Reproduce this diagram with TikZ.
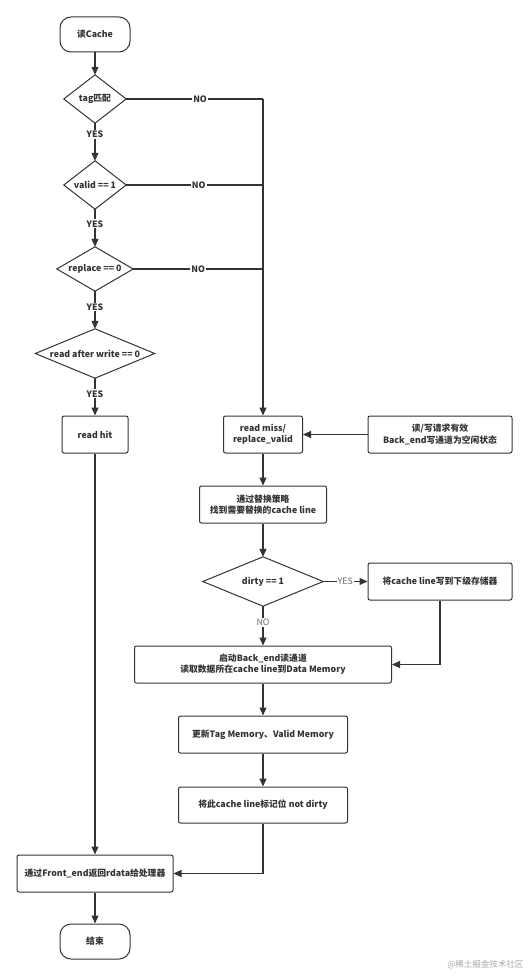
\documentclass[tikz,border=0pt]{standalone}
\usepackage{fontspec}
\setmainfont{Noto Sans CJK SC}
\usetikzlibrary{arrows.meta}
\definecolor{ink}{HTML}{333333}
\begin{document}
\begin{tikzpicture}[x=1pt,y=-1pt,
  font=\fontsize{8.8}{11.2}\selectfont\bfseries,
  line/.style={draw=ink, line width=1.1pt},
  arr/.style={line, -{Triangle[width=7pt,length=8pt]}},
  box/.style={draw=ink, line width=1pt, rounded corners=2pt, fill=white, align=center, inner sep=1pt, text=ink},
  term/.style={box, rounded corners=11pt, minimum width=70pt, minimum height=35pt},
  dec/.style={rectangle, inner sep=0pt, text=ink},
  dpath/.style={draw=ink, line width=1pt, line join=miter},
  lbl/.style={fill=white, inner sep=1pt, text=ink},
  lbl2/.style={fill=white, inner sep=1pt, text=ink!75, font=\fontsize{8.8}{11}\selectfont}
]
\useasboundingbox (0,0) rectangle (529,976);

\node[term] (start) at (95,34.5) {读Cache};
\node[dec, minimum width=62pt, minimum height=48pt] (tag) at (95,99) {tag匹配};
\node[dec, minimum width=62pt, minimum height=48pt] (valid) at (95,185) {valid == 1};
\node[dec, minimum width=76pt, minimum height=44pt] (repl) at (95,269) {replace == 0};
\node[dec, minimum width=119pt, minimum height=49pt] (raw) at (95,353.5) {read after write == 0};
\node[box, minimum width=66pt, minimum height=37pt] (hit) at (95,434.5) {read hit};
\node[box, minimum width=79pt, minimum height=37pt] (miss) at (263,434.5) {read miss/\\replace\_valid};
\node[box, minimum width=144pt, minimum height=37pt] (req) at (440,434.5) {读/写请求有效\\Back\_end写通道为空闲状态};
\node[box, minimum width=127pt, minimum height=37pt] (strat) at (263,504.5) {通过替换策略\\找到需要替换的cache line};
\node[dec, minimum width=120pt, minimum height=49pt] (dirty) at (263,581.5) {dirty == 1};
\node[box, minimum width=144pt, minimum height=37pt] (wb) at (440,581.5) {将cache line写到下级存储器};
\node[box, minimum width=257pt, minimum height=37pt] (rd) at (263,664.5) {启动Back\_end读通道\\读取数据所在cache line到Data Memory};
\node[box, minimum width=169pt, minimum height=37pt] (upd) at (263,734.5) {更新Tag Memory、Valid Memory};
\node[box, minimum width=169pt, minimum height=36pt] (nd) at (263,805) {将此cache line标记位 not dirty};
\node[box, minimum width=156pt, minimum height=37pt] (fe) at (95,873.5) {通过Front\_end返回rdata给处理器};
\node[term] (end) at (95,941.5) {结束};
\coordinate (j1) at (263,99);

\foreach \d in {tag,valid,repl,raw,dirty}
  \draw[dpath] (\d.north) -- (\d.east) -- (\d.south) -- (\d.west) -- cycle;

\draw[arr] (start) -- (tag);
\draw[arr] (tag) -- node[lbl, pos=0.3]{YES} (valid);
\draw[arr] (valid) -- node[lbl, pos=0.39]{YES} (repl);
\draw[arr] (repl) -- node[lbl, pos=0.42]{YES} (raw);
\draw[arr] (raw) -- node[lbl, pos=0.42]{YES} (hit);
\draw[line] (tag.east) -- node[lbl, pos=0.54]{NO} (j1);
\draw[arr] (j1) -- (miss.north);
\draw[line] (valid.east) -- node[lbl, pos=0.53]{NO} (valid.east -| j1);
\draw[line] (repl.east) -- node[lbl, pos=0.5]{NO} (repl.east -| j1);
\draw[arr] (req) -- (miss);
\draw[arr] (miss) -- (strat);
\draw[arr] (strat) -- (dirty);
\draw[arr] (dirty) -- node[lbl2]{YES} (wb);
\draw[arr] (dirty) -- node[lbl2, pos=0.42]{NO} (rd);
\draw[arr] (wb.south) |- (rd.east);
\draw[arr] (rd) -- (upd);
\draw[arr] (upd) -- (nd);
\draw[arr] (nd.south) |- (fe.east);
\draw[arr] (hit) -- (fe);
\draw[arr] (fe) -- (end);

\node[anchor=east, text=black!35, font=\fontsize{8.5}{10}\selectfont] (wm) at (527,965) {@稀土掘金技术社区};
\end{tikzpicture}
\end{document}
